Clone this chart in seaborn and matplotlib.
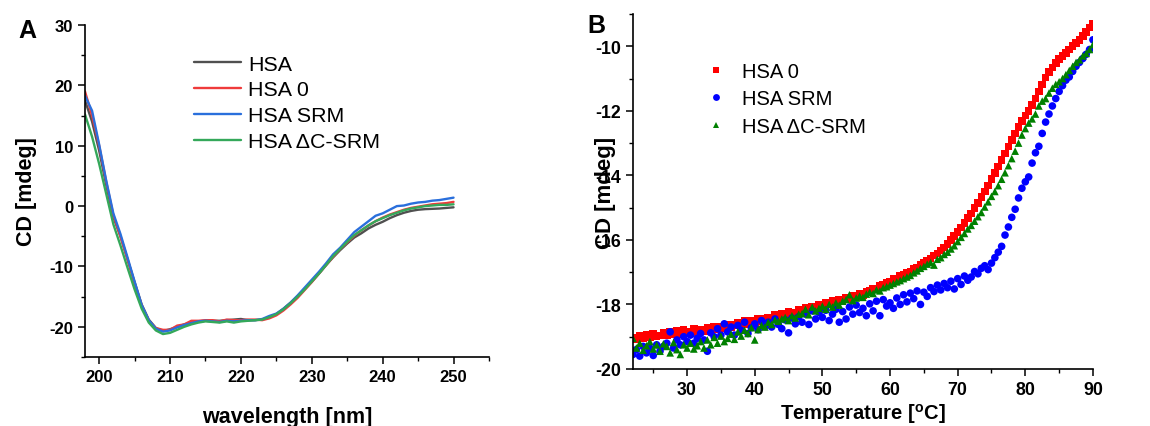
import numpy as np
import pandas as pd
import matplotlib
matplotlib.use("Agg")
import matplotlib.pyplot as plt
import seaborn as sns
from matplotlib.ticker import MultipleLocator

sns.set_style("ticks")
plt.rcParams['font.family'] = ['Liberation Sans', 'DejaVu Sans']
plt.rcParams['axes.unicode_minus'] = False
plt.rcParams['text.color'] = 'black'
plt.rcParams['axes.labelcolor'] = 'black'
plt.rcParams['xtick.color'] = 'black'
plt.rcParams['ytick.color'] = 'black'

# ---------------- Panel A data: CD spectra ----------------
wavelength = list(range(198, 251))
cd_hsa = [17.5, 14.0, 9.2, 3.5, -1.8, -5.0, -8.8, -12.6, -16.3, -18.8, -20.2, -20.7,
          -20.4, -20.0, -19.6, -19.3, -19.1, -19.0, -19.0, -19.0, -18.9, -18.8, -18.7, -18.9, -18.9,
          -18.8, -18.4, -17.9, -17.0, -16.0, -14.9, -13.7, -12.5, -11.2, -9.8, -8.5, -7.3, -6.2, -5.2,
          -4.5, -3.7, -3.1, -2.6, -2.0, -1.5, -1.1, -0.8, -0.6, -0.5, -0.45, -0.4, -0.3, -0.2]
cd_hsa0 = [19.0, 15.0, 10.0, 4.0, -1.5, -5.0, -8.8, -12.8, -16.5, -19.0, -20.2, -20.5,
           -20.5, -19.8, -19.6, -19.0, -19.0, -18.9, -18.9, -19.1, -18.8, -18.9, -18.9, -18.8, -18.8,
           -18.9, -18.6, -18.1, -17.3, -16.3, -15.2, -13.9, -12.6, -11.2, -9.8, -8.4, -7.1, -6.0, -4.9,
           -4.0, -3.2, -2.5, -1.9, -1.4, -1.0, -0.6, -0.3, -0.1, 0.1, 0.3, 0.4, 0.5, 0.7]
cd_srm = [18.3, 15.8, 10.2, 4.2, -1.2, -4.6, -8.5, -12.5, -16.4, -18.9, -20.3, -20.8,
          -20.6, -20.1, -19.7, -19.4, -19.1, -19.0, -19.1, -19.2, -19.0, -19.1, -19.0, -18.9, -18.9,
          -18.7, -18.2, -17.8, -17.0, -16.0, -14.8, -13.5, -12.2, -10.9, -9.5, -8.0, -6.9, -5.6, -4.3,
          -3.4, -2.5, -1.6, -1.2, -0.6, 0.0, 0.1, 0.4, 0.6, 0.7, 0.9, 1.0, 1.2, 1.4]
cd_dc_srm = [15.2, 11.5, 7.0, 2.0, -3.0, -6.5, -10.2, -13.8, -17.0, -19.3, -20.6, -21.2,
             -21.0, -20.5, -20.0, -19.6, -19.3, -19.1, -19.2, -19.3, -19.1, -19.3, -19.1, -19.0, -18.9,
             -18.8, -18.4, -17.9, -17.1, -16.1, -15.0, -13.8, -12.5, -11.2, -9.8, -8.3, -7.1, -5.9, -4.8,
             -4.0, -3.2, -2.5, -2.0, -1.5, -1.1, -0.7, -0.4, -0.2, 0.0, 0.1, 0.2, 0.2, 0.3]
labels_a = ["HSA", "HSA 0", "HSA SRM", "HSA \u0394C-SRM"]
colors_a = ["#505050", "#ef3b3b", "#2a6fdc", "#34a85a"]

# ---------------- Panel B data: thermal melts ----------------
temperature = np.arange(22.0, 90.01, 0.5)
melt_hsa0 = [
    -19.02, -19.08, -18.96, -19.04, -18.94, -19.02, -18.92, -18.99, -18.96, -18.88,
    -18.95, -18.86, -18.93, -18.82, -18.91, -18.80, -18.84, -18.89, -18.76, -18.85,
    -18.78, -18.83, -18.72, -18.81, -18.70, -18.78, -18.68, -18.74, -18.62, -18.70,
    -18.64, -18.58, -18.66, -18.52, -18.61, -18.50, -18.56, -18.45, -18.52, -18.44,
    -18.40, -18.46, -18.32, -18.41, -18.30, -18.36, -18.22, -18.30, -18.25, -18.16,
    -18.22, -18.10, -18.18, -18.06, -18.10, -18.00, -18.06, -17.96, -17.98, -17.90,
    -17.94, -17.85, -17.88, -17.78, -17.84, -17.72, -17.76, -17.66, -17.70, -17.60,
    -17.58, -17.52, -17.50, -17.42, -17.40, -17.34, -17.30, -17.22, -17.20, -17.12,
    -17.08, -17.02, -16.98, -16.90, -16.85, -16.78, -16.72, -16.64, -16.58, -16.48,
    -16.42, -16.33, -16.24, -16.12, -16.00, -15.88, -15.75, -15.62, -15.48, -15.33,
    -15.18, -15.02, -14.85, -14.68, -14.50, -14.32, -14.12, -13.93, -13.73, -13.52,
    -13.32, -13.10, -12.90, -12.70, -12.50, -12.32, -12.15, -12.00, -11.82, -11.62,
    -11.40, -11.18, -10.97, -10.80, -10.66, -10.52, -10.40, -10.30, -10.20, -10.10,
    -10.00, -9.90, -9.80, -9.68, -9.55, -9.42, -9.30]
melt_srm = [
    -19.55, -19.40, -19.60, -19.30, -19.50, -19.35, -19.58, -19.25, -19.45, -19.30,
    -19.20, -18.85, -19.35, -19.10, -19.25, -19.00, -19.15, -18.95, -19.20, -19.05,
    -18.90, -19.10, -19.45, -18.88, -19.00, -18.75, -18.95, -18.60, -18.85, -18.70,
    -18.95, -18.65, -18.80, -18.55, -18.90, -18.72, -18.60, -18.78, -18.50, -18.68,
    -18.55, -18.70, -18.45, -18.62, -18.75, -18.48, -18.88, -18.42, -18.60, -18.38,
    -18.55, -18.30, -18.62, -18.20, -18.45, -18.25, -18.40, -18.18, -18.50, -18.30,
    -18.15, -18.55, -18.22, -18.45, -18.08, -18.30, -18.02, -18.25, -18.12, -18.35,
    -17.98, -18.20, -17.90, -18.35, -17.85, -18.05, -17.95, -18.12, -17.80, -18.00,
    -17.70, -17.92, -17.65, -17.82, -17.58, -18.00, -17.62, -17.75, -17.48, -17.60,
    -17.40, -17.55, -17.35, -17.48, -17.28, -17.52, -17.20, -17.38, -17.12, -17.25,
    -17.15, -16.98, -17.05, -16.88, -16.80, -16.92, -16.72, -16.55, -16.38, -16.20,
    -15.85, -15.60, -15.30, -15.05, -14.70, -14.40, -14.20, -14.05, -13.62, -13.30,
    -13.10, -12.70, -12.35, -12.10, -11.85, -11.62, -11.40, -11.22, -11.05, -10.95,
    -10.78, -10.62, -10.50, -10.38, -10.25, -10.10, -9.80]
melt_dc_srm = [
    -19.05, -19.35, -19.20, -19.42, -19.28, -19.15, -19.38, -19.25, -19.45, -19.22,
    -19.30, -19.50, -19.18, -19.40, -19.55, -19.25, -19.35, -19.20, -19.38, -19.28,
    -19.15, -19.35, -19.10, -19.25, -19.02, -19.20, -18.98, -19.15, -19.05, -18.92,
    -19.08, -18.85, -18.98, -18.80, -18.90, -18.72, -19.10, -18.78, -18.65, -18.70,
    -18.55, -18.62, -18.48, -18.52, -18.45, -18.40, -18.50, -18.35, -18.42, -18.30,
    -18.28, -18.15, -18.32, -18.08, -18.20, -18.12, -18.05, -18.15, -18.00, -18.08,
    -17.95, -18.02, -17.90, -17.85, -17.70, -17.88, -17.80, -17.74, -17.78, -17.68,
    -17.62, -17.66, -17.55, -17.58, -17.48, -17.45, -17.40, -17.35, -17.30, -17.26,
    -17.20, -17.15, -17.10, -17.02, -16.96, -16.88, -16.82, -16.75, -16.70, -16.78,
    -16.60, -16.55, -16.45, -16.38, -16.28, -16.18, -16.05, -15.92, -15.80, -15.66,
    -15.55, -15.42, -15.28, -15.15, -14.98, -14.82, -14.65, -14.50, -14.32, -14.12,
    -13.92, -13.70, -13.48, -13.25, -13.00, -12.75, -12.55, -12.38, -12.25, -12.10,
    -11.85, -11.70, -11.62, -11.45, -11.30, -11.18, -11.10, -11.00, -10.88, -10.75,
    -10.62, -10.50, -10.42, -10.30, -10.22, -10.10, -9.95]
labels_b = ["HSA 0", "HSA SRM", "HSA \u0394C-SRM"]
colors_b = ["#ff0000", "#0000ff", "#008000"]
markers_b = ["s", "o", "^"]

df_a = pd.DataFrame({
    "wavelength": wavelength * 4,
    "CD": cd_hsa + cd_hsa0 + cd_srm + cd_dc_srm,
    "sample": sum([[l] * len(wavelength) for l in labels_a], []),
})
df_b = pd.DataFrame({
    "T": np.concatenate([temperature] * 3),
    "CD": melt_hsa0 + melt_srm + melt_dc_srm,
    "sample": sum([[l] * len(temperature) for l in labels_b], []),
})

fig = plt.figure(figsize=(11.5, 4.27), dpi=100)
axA = fig.add_axes([0.0739, 0.1616, 0.3513, 0.7774])
axB = fig.add_axes([0.5504, 0.1335, 0.4000, 0.8314])

sns.lineplot(data=df_a, x="wavelength", y="CD", hue="sample", hue_order=labels_a,
             palette=colors_a, linewidth=1.7, ax=axA)
sns.scatterplot(data=df_b, x="T", y="CD", hue="sample", style="sample",
                hue_order=labels_b, style_order=labels_b, palette=colors_b,
                markers=dict(zip(labels_b, markers_b)), s=30, linewidth=0, ax=axB)

axA.set_xlim(198, 255)
axA.set_ylim(-25, 30)
axA.xaxis.set_major_locator(MultipleLocator(10))
axA.xaxis.set_minor_locator(MultipleLocator(5))
axA.yaxis.set_major_locator(MultipleLocator(10))
axA.yaxis.set_minor_locator(MultipleLocator(5))
axA.set_xticks([200, 210, 220, 230, 240, 250])
axA.set_xlabel("wavelength [nm]", labelpad=16, fontsize=15.5, fontweight="bold")
axA.set_ylabel("CD [mdeg]", labelpad=9, fontsize=15.5, fontweight="bold")

axB.set_xlim(22, 90)
axB.set_ylim(-20, -9)
axB.xaxis.set_major_locator(MultipleLocator(10))
axB.xaxis.set_minor_locator(MultipleLocator(5))
axB.yaxis.set_major_locator(MultipleLocator(2))
axB.yaxis.set_minor_locator(MultipleLocator(1))
axB.set_xlabel("Temperature [$\\mathregular{^o}$C]", labelpad=2, fontsize=14.5, fontweight="bold")
axB.set_ylabel("CD [mdeg]", labelpad=-15, fontsize=16, fontweight="bold")

for ax, fs in ((axA, 12), (axB, 12.8)):
    sns.despine(ax=ax)
    for sp in ("left", "bottom"):
        ax.spines[sp].set_linewidth(1.2)
        ax.spines[sp].set_color("black")
    ax.tick_params(which="major", direction="out", length=5, width=1.1, colors="black")
    ax.tick_params(which="minor", direction="out", length=3, width=1.0, colors="black")
    for t in ax.get_xticklabels() + ax.get_yticklabels():
        t.set_fontsize(fs)
        t.set_fontweight("bold")

axA.legend(handles=axA.get_legend_handles_labels()[0], labels=labels_a,
           loc="upper left", bbox_to_anchor=(0.169, 0.87), bbox_transform=fig.transFigure,
           frameon=False, fontsize=15.4, handlelength=2.2, handletextpad=0.3,
           labelspacing=0.32, borderpad=0, borderaxespad=0)
axB.legend(handles=axB.get_legend_handles_labels()[0], labels=labels_b,
           loc="upper left", bbox_to_anchor=(0.616, 0.853), bbox_transform=fig.transFigure,
           frameon=False, fontsize=14.5, handlelength=0.8, handletextpad=0.85,
           labelspacing=0.42, borderpad=0, borderaxespad=0, markerscale=0.9)

fig.text(0.016, 0.911, "A", fontsize=18, fontweight="bold")
fig.text(0.511, 0.923, "B", fontsize=18, fontweight="bold")

fig.savefig("out.png", dpi=100)
